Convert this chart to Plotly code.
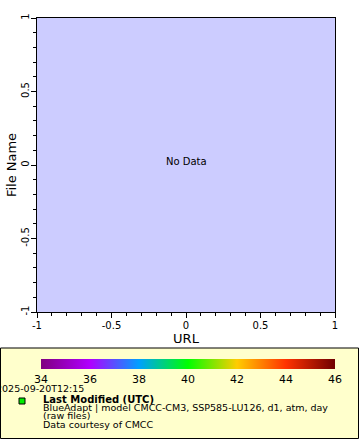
import plotly.graph_objects as go

W, H = 360, 440

# ---- data ----
x_range = [-1, 1]
y_range = [-1, 1]
axis_tickvals = [-1, -0.5, 0, 0.5, 1]
axis_ticktext = ["-1", "-0.5", "0", "0.5", "1"]
cbar_min, cbar_max = 34, 46
cbar_tickvals = [34, 36, 38, 40, 42, 44, 46]
cbar_colors = ["#800080", "#b000ff", "#00a0ff", "#00ff00", "#ffcc00", "#ff3300", "#700000"]
x_title = "URL"
y_title = "File Name"
no_data_text = "No Data"
time_label = "2025-09-20T12:15"
legend_lines = [
    "<b>Last Modified (UTC)</b>",
    "BlueAdapt | model CMCC-CM3, SSP585-LU126, d1, atm, day",
    "(raw files)",
    "Data courtesy of CMCC",
]

FONT = "DejaVu Sans"

def px(x):
    return x / W

def py(y):
    return 1 - y / H

n = len(cbar_colors) - 1
colorscale = [[i / n, c] for i, c in enumerate(cbar_colors)]

fig = go.Figure()
fig.add_trace(go.Scatter(
    x=[None, None], y=[None, None], mode="markers",
    marker=dict(
        color=[cbar_min, cbar_max], colorscale=colorscale,
        cmin=cbar_min, cmax=cbar_max, showscale=True,
        colorbar=dict(
            orientation="h", x=px(41), xanchor="left", y=py(359), yanchor="top",
            lenmode="pixels", len=294, thicknessmode="pixels", thickness=10,
            xpad=0, ypad=0, outlinewidth=0, borderwidth=0,
            tickvals=cbar_tickvals, ticktext=[str(v) for v in cbar_tickvals],
            ticks="", tickfont=dict(family=FONT, size=11, color="black"),
            bgcolor="rgba(0,0,0,0)",
        ),
    ),
    hoverinfo="skip", showlegend=False,
))

axis_common = dict(
    showgrid=False, zeroline=False, showline=True, linecolor="black", linewidth=1,
    mirror=True, ticks="outside", ticklen=5, tickwidth=1, tickcolor="black",
    tickvals=axis_tickvals, ticktext=axis_ticktext,
    tickfont=dict(family=FONT, size=10, color="black"),
    minor=dict(dtick=0.1, ticks="outside", ticklen=3, tickcolor="black", tickwidth=1, showgrid=False),
    automargin=False, fixedrange=True,
)

fig.update_layout(
    width=W, height=H,
    margin=dict(l=0, r=0, t=0, b=0, pad=0),
    paper_bgcolor="white", plot_bgcolor="#ccccff",
    showlegend=False,
    font=dict(family=FONT, size=10, color="black"),
    xaxis=dict(domain=[px(37), px(335)], range=x_range, ticklabelstandoff=-1, **axis_common,
               title=dict(text=x_title, font=dict(family=FONT, size=13, color="black"), standoff=3)),
    yaxis=dict(domain=[py(312), py(18)], range=y_range, tickangle=-90, ticklabelstandoff=-2,
               **axis_common,
               title=dict(text=y_title, font=dict(family=FONT, size=13, color="black"), standoff=0)),
)

# legend box
fig.add_shape(type="rect", xref="paper", yref="paper",
              x0=px(0.5), x1=px(358.5), y0=py(348), y1=py(438.5),
              fillcolor="#ffffcc", line=dict(color="black", width=1), layer="below")
# legend marker
fig.add_shape(type="rect", xref="paper", yref="paper",
              x0=px(19), x1=px(25), y0=py(398), y1=py(404),
              fillcolor="#00ee00", line=dict(color="black", width=1))

# No Data label
fig.add_annotation(x=0, y=0, xref="x", yref="y", text=no_data_text, showarrow=False, yshift=4,
                   font=dict(family=FONT, size=10, color="black"))

# time label
fig.add_annotation(x=px(86), y=py(388.5), xref="paper", yref="paper", xanchor="right", yanchor="middle",
                   text=time_label, showarrow=False, font=dict(family=FONT, size=9.5, color="black"))

line_y = [399, 407.5, 415.5, 424.5]
line_sizes = [10, 9.5, 9.5, 9.5]
for txt, yy, fs in zip(legend_lines, line_y, line_sizes):
    fig.add_annotation(x=px(41), y=py(yy), xref="paper", yref="paper", xanchor="left", yanchor="middle",
                       text=txt, showarrow=False, font=dict(family=FONT, size=fs, color="black"))

fig.write_html("out.html", config={"displayModeBar": False})
